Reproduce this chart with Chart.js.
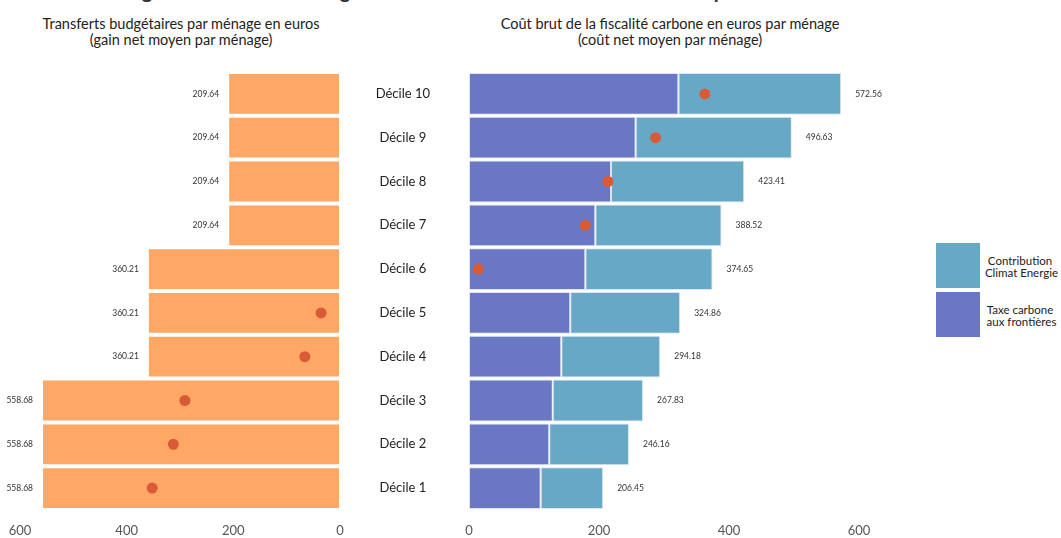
<!DOCTYPE html>
<html lang="fr">
<head>
<meta charset="utf-8">
<script src="https://cdn.jsdelivr.net/npm/chart.js@4.4.1/dist/chart.umd.min.js"></script>
<style>
  html, body { margin: 0; padding: 0; background: #fff; }
  body { width: 1061px; height: 538px; position: relative; overflow: hidden; font-family: Lato, "Open Sans", sans-serif; }
  canvas { position: absolute; top: 0; }
  .ttl { position: absolute; text-align: center; font-size: 14.5px; line-height: 16px; color: #222; white-space: nowrap; }
  .main { position: absolute; left: 6px; width: 1061px; top: -22px; text-align: center; font-size: 20px; font-weight: bold; color: #333; white-space: nowrap; }
  .leg { position: absolute; left: 936px; width: 44px; height: 45px; }
  .legtxt { position: absolute; left: 978px; width: 84px; text-align: center; font-size: 11.5px; line-height: 12px; color: #222; white-space: nowrap; }
</style>
</head>
<body>
<div class="main">Figure 2 : Transferts budgétaires et coût net de la fiscalité carbone par décile de niveau de vie</div>
<div class="ttl" style="left:0;width:362px;top:16px;">Transferts budgétaires par ménage en euros<br>(gain net moyen par ménage)</div>
<div class="ttl" style="left:468px;width:404px;top:16px;">Coût brut de la fiscalité carbone en euros par ménage<br>(coût net moyen par ménage)</div>
<div class="leg" style="top:243px;background:#67a8c7;"></div>
<div class="leg" style="top:292px;background:#6a77c4;"></div>
<div class="legtxt" style="top:255px;">Contribution<br>&nbsp;Climat Energie</div>
<div class="legtxt" style="top:304px;">Taxe carbone<br>&nbsp;aux frontières</div>
<canvas id="left" width="350" height="538" style="left:0;"></canvas>
<canvas id="right" width="721" height="538" style="left:340px;"></canvas>
<script>
// Categories (Décile 1 .. Décile 10)
const deciles = ['Décile 1','Décile 2','Décile 3','Décile 4','Décile 5','Décile 6','Décile 7','Décile 8','Décile 9','Décile 10'];
// Left panel: budget transfers per household (euros)
const transferts = [558.68, 558.68, 558.68, 360.21, 360.21, 360.21, 209.64, 209.64, 209.64, 209.64];
// Left panel: net average gain per household (dots)
const gainNet = [352.2, 312.5, 290.9, 66.0, 35.4, null, null, null, null, null];
// Right panel: gross cost components (euros)
const taxeFrontieres = [110.3, 123.4, 128.9, 142.0, 155.7, 179.0, 194.3, 218.5, 256.4, 322.2];
const contributionCE = [96.15, 122.76, 138.93, 152.18, 169.16, 195.65, 194.22, 204.91, 240.23, 250.36];
// Totals shown as labels
const coutBrut = [206.45, 246.16, 267.83, 294.18, 324.86, 374.65, 388.52, 423.41, 496.63, 572.56];
// Right panel: net average cost per household (dots)
const coutNet = [null, null, null, null, null, 14.4, 178.9, 213.8, 287.0, 362.9];
// Axis ticks
const xMin = 0, xMax = 600, xStep = 200;

const FONT = 'Lato, "Open Sans", sans-serif';
Chart.defaults.font.family = FONT;
Chart.defaults.animation = false;

function fmt(v) { return v.toFixed(2); }

const leftLabels = {
  id: 'leftLabels',
  afterDatasetsDraw(chart) {
    const ctx = chart.ctx;
    const meta = chart.getDatasetMeta(1);
    ctx.save();
    ctx.font = '8.5px ' + FONT;
    ctx.fillStyle = '#333';
    ctx.textAlign = 'right';
    ctx.textBaseline = 'middle';
    meta.data.forEach((el, i) => { ctx.fillText(fmt(transferts[i]), el.x - 9, el.y); });
    ctx.restore();
  }
};

const rightLabels = {
  id: 'rightLabels',
  afterDatasetsDraw(chart) {
    const ctx = chart.ctx;
    const m0 = chart.getDatasetMeta(0), m1 = chart.getDatasetMeta(1);
    ctx.save();
    ctx.font = '8.5px ' + FONT;
    ctx.fillStyle = '#333';
    ctx.textAlign = 'left';
    ctx.textBaseline = 'middle';
    m1.data.forEach((el, i) => {
      const xEnd = Math.max(el.x, m0.data[i].x);
      ctx.fillText(fmt(coutBrut[i]), xEnd + 14, el.y);
    });
    ctx.restore();
  }
};

function xAxis(extra) {
  return Object.assign({
    min: xMin, max: xMax,
    grid: { display: false, drawTicks: false },
    border: { display: false },
    ticks: { stepSize: xStep, color: '#555', font: { size: 13 }, padding: 13, maxRotation: 0 },
    afterFit(scale) { scale.height = 28; scale.paddingLeft = 0; scale.paddingRight = 0; }
  }, extra);
}

function dots(label, data) {
  return {
    type: 'line', label: label, data: data, showLine: false, pointRadius: 5.5, pointHoverRadius: 5.5,
    pointBackgroundColor: '#d95b36', pointBorderWidth: 0, borderColor: '#d95b36', backgroundColor: '#d95b36',
    stack: 'net', order: -1
  };
}

const barCommon = { borderWidth: 1, borderSkipped: false, barPercentage: 0.955, categoryPercentage: 1, order: 0 };

new Chart(document.getElementById('left'), {
  type: 'bar',
  data: {
    labels: deciles,
    datasets: [
      dots('Gain net', gainNet),
      Object.assign({ label: 'Transferts', data: transferts, backgroundColor: '#ffa764', borderColor: 'rgba(255,255,255,0.55)' }, barCommon)
    ]
  },
  options: {
    responsive: false,
    indexAxis: 'y',
    layout: { padding: { top: 72, left: 20, right: 10, bottom: 0 } },
    plugins: { legend: { display: false }, tooltip: { enabled: false } },
    scales: {
      x: xAxis({ reverse: true }),
      y: { display: false, reverse: true }
    }
  },
  plugins: [leftLabels]
});

new Chart(document.getElementById('right'), {
  type: 'bar',
  data: {
    labels: deciles,
    datasets: [
      Object.assign({ label: 'Taxe carbone aux frontières', data: taxeFrontieres, backgroundColor: '#6a77c4', borderColor: 'rgba(215,225,245,0.85)', stack: 'cout' }, barCommon),
      Object.assign({ label: 'Contribution Climat Energie', data: contributionCE, backgroundColor: '#67a8c7', borderColor: 'rgba(215,225,245,0.85)', stack: 'cout' }, barCommon),
      dots('Coût net', coutNet)
    ]
  },
  options: {
    responsive: false,
    indexAxis: 'y',
    layout: { padding: { top: 72, left: 0, right: 202, bottom: 0 } },
    plugins: { legend: { display: false }, tooltip: { enabled: false } },
    scales: {
      x: xAxis({ stacked: true }),
      y: {
        stacked: true, reverse: true,
        grid: { display: false, drawTicks: false },
        border: { display: false },
        ticks: { color: '#222', font: { size: 13 }, padding: 39, crossAlign: 'center' },
        afterFit(scale) { scale.width = 129; scale.paddingTop = 0; scale.paddingBottom = 0; }
      }
    }
  },
  plugins: [rightLabels]
});
</script>
</body>
</html>
